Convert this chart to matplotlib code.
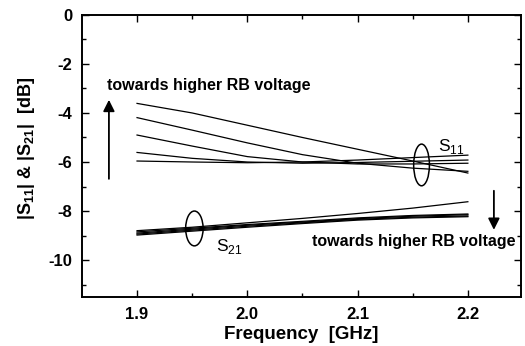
import matplotlib
matplotlib.use("Agg")
import matplotlib.pyplot as plt
from matplotlib.patches import Ellipse
from matplotlib.ticker import MultipleLocator, FixedLocator, FuncFormatter

plt.rcParams['font.family'] = ['Liberation Sans', 'DejaVu Sans']
plt.rcParams['axes.unicode_minus'] = False
plt.rcParams['mathtext.fontset'] = 'custom'
plt.rcParams['mathtext.rm'] = 'Liberation Sans'
plt.rcParams['mathtext.bf'] = 'Liberation Sans:bold'

freq = [1.90, 1.95, 2.00, 2.05, 2.10, 2.15, 2.20]

s11_curves = [
    [-3.61, -4.00, -4.50, -5.00, -5.48, -5.96, -6.45],
    [-4.19, -4.70, -5.22, -5.70, -6.05, -6.25, -6.38],
    [-4.90, -5.35, -5.78, -6.00, -6.08, -6.08, -6.05],
    [-5.61, -5.85, -6.00, -6.05, -6.02, -5.97, -5.92],
    [-5.96, -6.00, -6.03, -6.00, -5.92, -5.82, -5.72],
]
s21_curves = [
    [-8.80, -8.66, -8.48, -8.30, -8.10, -7.88, -7.62],
    [-8.85, -8.70, -8.55, -8.42, -8.28, -8.18, -8.12],
    [-8.90, -8.74, -8.58, -8.45, -8.31, -8.21, -8.15],
    [-8.94, -8.78, -8.62, -8.48, -8.34, -8.25, -8.20],
    [-8.98, -8.82, -8.66, -8.51, -8.37, -8.28, -8.23],
]

x_major = [1.9, 2.0, 2.1, 2.2]
y_major = [0, -2, -4, -6, -8, -10]

fig = plt.figure(figsize=(5.25, 3.46), dpi=100)
ax = fig.add_axes([0.156, 0.142, 0.836, 0.815])

for c in s11_curves:
    ax.plot(freq, c, color='black', lw=0.9)
for c in s21_curves:
    ax.plot(freq, c, color='black', lw=0.9)

ax.set_xlim(1.85, 2.248)
ax.set_ylim(-11.5, 0)
ax.xaxis.set_major_locator(FixedLocator(x_major))
ax.xaxis.set_minor_locator(FixedLocator([1.95, 2.05, 2.15]))
ax.yaxis.set_major_locator(FixedLocator(y_major))
ax.yaxis.set_minor_locator(MultipleLocator(1))
ax.xaxis.set_major_formatter(FuncFormatter(lambda v, p: f"{v:.1f}"))
ax.yaxis.set_major_formatter(FuncFormatter(lambda v, p: f"{v:.0f}"))
ax.tick_params(which='both', direction='in', top=True, right=True, width=1.0)
ax.tick_params(which='major', length=5, labelsize=12, pad=7)
ax.tick_params(which='minor', length=3)
for lab in ax.get_xticklabels() + ax.get_yticklabels():
    lab.set_fontweight('bold')
for s in ax.spines.values():
    s.set_linewidth(1.4)

ax.set_xlabel('Frequency  [GHz]', fontsize=13.5, fontweight='bold', labelpad=3)
ax.set_ylabel(r'|S$_{\mathbf{11}}$| & |S$_{\mathbf{21}}$|  [dB]', fontsize=13,
              fontweight='bold')
ax.yaxis.set_label_coords(-0.103, 0.527)

# ellipses
ax.add_patch(Ellipse((2.158, -6.12), 0.0143, 1.70, fill=False, ec='black', lw=1.1))
ax.add_patch(Ellipse((1.952, -8.71), 0.0158, 1.42, fill=False, ec='black', lw=1.1))

ax.text(2.173, -5.75, r'S$_{\mathrm{11}}$', fontsize=12.5, ha='left', va='bottom')
ax.text(1.972, -9.05, r'S$_{\mathrm{21}}$', fontsize=12.5, ha='left', va='top')

# arrows
ax.annotate('', xy=(1.8745, -3.35), xytext=(1.8745, -6.8),
            arrowprops=dict(arrowstyle='-|>', color='black', lw=1.3,
                            mutation_scale=17))
ax.annotate('', xy=(2.2236, -8.88), xytext=(2.2236, -7.06),
            arrowprops=dict(arrowstyle='-|>', color='black', lw=1.3,
                            mutation_scale=17))

ax.text(1.8727, -2.86, 'towards higher RB voltage', fontsize=11.5,
        fontweight='bold', ha='left', va='center')
ax.text(2.059, -9.25, 'towards higher RB voltage', fontsize=11.5,
        fontweight='bold', ha='left', va='center')

fig.savefig('out.png', dpi=100)
